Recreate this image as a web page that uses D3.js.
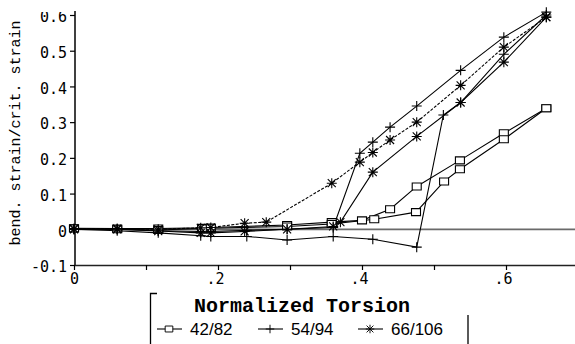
<!DOCTYPE html>
<html>
<head>
<meta charset="utf-8">
<script src="https://cdn.jsdelivr.net/npm/d3@7"></script>
<style>
  body { margin: 0; background: #fff; }
  svg { display: block; }
</style>
</head>
<body>
<svg id="chart" width="575" height="344"></svg>
<script>
"use strict";

// torsion levels / strain ratios
var sq1X = [0, 0.06, 0.117, 0.178, 0.19, 0.296, 0.358, 0.40, 0.439, 0.476, 0.536, 0.597, 0.656];
var sq1Y = [0.003, 0.002, 0.002, 0.004, 0.005, 0.012, 0.02, 0.025, 0.056, 0.12, 0.193, 0.269, 0.339];
var sq2X = [0, 0.06, 0.117, 0.178, 0.19, 0.296, 0.358, 0.417, 0.475, 0.514, 0.536, 0.597, 0.656];
var sq2Y = [0.002, 0.0, -0.002, 0.002, 0.003, 0.008, 0.015, 0.028, 0.048, 0.134, 0.168, 0.252, 0.339];

var pl1X = [0, 0.06, 0.117, 0.176, 0.19, 0.24, 0.296, 0.36, 0.397, 0.415, 0.439, 0.476, 0.537, 0.597, 0.656];
var pl1Y = [0, 0, -0.004, -0.006, -0.006, -0.003, 0.0, 0.005, 0.213, 0.244, 0.286, 0.345, 0.445, 0.538, 0.608];
var pl2X = [0, 0.06, 0.117, 0.176, 0.19, 0.24, 0.296, 0.36, 0.415, 0.476, 0.513, 0.537, 0.597, 0.656];
var pl2Y = [0, -0.004, -0.01, -0.018, -0.02, -0.02, -0.03, -0.02, -0.028, -0.05, 0.32, 0.355, 0.49, 0.60];

var as1X = [0, 0.06, 0.117, 0.176, 0.19, 0.237, 0.267, 0.358, 0.397, 0.415, 0.439, 0.476, 0.537, 0.597, 0.656];
var as1Y = [0.002, 0.002, 0.0, 0.004, 0.005, 0.017, 0.02, 0.129, 0.188, 0.215, 0.25, 0.30, 0.403, 0.51, 0.594];
var as2X = [0, 0.06, 0.117, 0.176, 0.19, 0.237, 0.296, 0.36, 0.37, 0.415, 0.476, 0.537, 0.597, 0.656];
var as2Y = [0, 0, -0.005, -0.01, -0.01, -0.006, 0.0, 0.008, 0.02, 0.16, 0.26, 0.355, 0.468, 0.594];

var legendNames = ["42/82", "54/94", "66/106"];
var xTicks = [0, 0.1, 0.2, 0.3, 0.4, 0.5, 0.6];
var xTickLabels = ["0", "", ".2", "", ".4", "", ".6"];
var yTicks = [-0.1, 0, 0.1, 0.2, 0.3, 0.4, 0.5, 0.6];
var yTickLabels = ["-0.1", "0", "0.1", "0.2", "0.3", "0.4", "0.5", "0.6"];

var svg = d3.select("#chart");

var x = d3.scaleLinear().domain([0, 0.7]).range([74, 578]);
var y = d3.scaleLinear().domain([-0.1, 0.6]).range([265, 15]);

var monoTick = "'DejaVu Sans Mono', monospace";

function zip(xs, ys) {
	return xs.map(function(v, i) { return [v, ys[i]]; });
}

var series = [
	{ pts: zip(sq1X, sq1Y), mark: "square", dash: null },
	{ pts: zip(sq2X, sq2Y), mark: "square", dash: null },
	{ pts: zip(pl1X, pl1Y), mark: "plus", dash: null },
	{ pts: zip(pl2X, pl2Y), mark: "plus", dash: null },
	{ pts: zip(as1X, as1Y), mark: "star", dash: "3,1.5" },
	{ pts: zip(as2X, as2Y), mark: "star", dash: null }
];

// marker shapes as path strings centred on 0,0
function markPath(kind) {
	if (kind == "square") return "M-4.5,-3.5H4.5V3.5H-4.5Z";
	if (kind == "plus") return "M-5,0H5M0,-5V5";
	return "M-5,0H5M0,-5V5M-4,-4L4,4M-4,4L4,-4";
}

// clip for the scanned-off top edge (local coords of the y axis group)
svg.append("defs").append("clipPath").attr("id", "pg")
	.append("rect").attr("x", -80).attr("y", 12).attr("width", 600).attr("height", 332);

// y axis
var yAxis = d3.axisLeft(y)
	.tickValues(yTicks)
	.tickSize(5)
	.tickSizeOuter(0)
	.tickFormat(function(d, i) { return yTickLabels[i]; });
var gy = svg.append("g")
	.attr("transform", "translate(75,0)")
	.attr("clip-path", "url(#pg)")
	.call(yAxis);
gy.select(".domain").remove();
gy.selectAll("line").attr("stroke", "#000").attr("stroke-width", 1.2);
gy.selectAll("text")
	.attr("x", -8)
	.attr("dy", "0.45em")
	.style("font-family", monoTick)
	.style("font-size", "15px")
	.attr("fill", "#000");
svg.append("line")
	.attr("x1", 75).attr("x2", 75)
	.attr("y1", 11).attr("y2", 265)
	.attr("stroke", "#000").attr("stroke-width", 1.5);

// x axis
var xAxis = d3.axisBottom(x)
	.tickValues(xTicks)
	.tickSize(5)
	.tickSizeOuter(0)
	.tickFormat(function(d, i) { return xTickLabels[i]; });
var gx = svg.append("g")
	.attr("transform", "translate(0,265)")
	.call(xAxis);
gx.select(".domain").attr("stroke", "#222").attr("stroke-width", 1.3);
gx.selectAll("line").attr("stroke", "#000").attr("stroke-width", 1.2);
gx.selectAll("text")
	.attr("y", 8)
	.attr("dx", function(d) { return d == 0 ? 0 : -3; })
	.style("font-family", monoTick)
	.style("font-size", "15px")
	.attr("fill", "#000");

// zero reference line
svg.append("line")
	.attr("x1", x(0)).attr("x2", 575)
	.attr("y1", y(0)).attr("y2", y(0))
	.attr("stroke", "#6a6a6a").attr("stroke-width", 1.8);

// curves
var line = d3.line()
	.x(function(d) { return x(d[0]); })
	.y(function(d) { return y(d[1]); });

var gs = svg.append("g");
series.forEach(function(s) {
	gs.append("path")
		.attr("d", line(s.pts))
		.attr("fill", "none")
		.attr("stroke", "#000")
		.attr("stroke-width", 1.1)
		.attr("stroke-dasharray", s.dash);
});
series.forEach(function(s) {
	gs.selectAll(null)
		.data(s.pts)
		.enter().append("path")
		.attr("transform", function(d) { return "translate(" + x(d[0]) + "," + y(d[1]) + ")"; })
		.attr("d", markPath(s.mark))
		.attr("fill", s.mark == "square" ? "#fff" : "none")
		.attr("stroke", "#000")
		.attr("stroke-width", 1.1);
});

// axis titles
svg.append("text")
	.attr("transform", "translate(20,133) rotate(-90)")
	.attr("text-anchor", "middle")
	.style("font-family", "'Liberation Mono', monospace")
	.style("font-size", "15px")
	.text("bend. strain/crit. strain");

svg.append("text")
	.attr("x", 302).attr("y", 312)
	.attr("text-anchor", "middle")
	.style("font-family", "'Liberation Mono', monospace")
	.style("font-size", "20px")
	.style("font-weight", "bold")
	.text("Normalized Torsion");

// legend
var lg = svg.append("g");
lg.append("path")
	.attr("d", "M157,293.5H150.5V344")
	.attr("fill", "none").attr("stroke", "#000").attr("stroke-width", 1.3);
lg.append("line")
	.attr("x1", 468).attr("x2", 468).attr("y1", 315).attr("y2", 344)
	.attr("stroke", "#000").attr("stroke-width", 1.3);

var legendX = [157, 258, 358];
var legendMarks = ["square", "plus", "star"];
legendNames.forEach(function(name, i) {
	var lx = legendX[i];
	lg.append("line")
		.attr("x1", lx).attr("x2", lx + 25)
		.attr("y1", 329).attr("y2", 329)
		.attr("stroke", "#000").attr("stroke-width", 1.1);
	lg.append("path")
		.attr("transform", "translate(" + (lx + 12) + ",329) scale(0.85)")
		.attr("d", markPath(legendMarks[i]))
		.attr("fill", legendMarks[i] == "square" ? "#fff" : "none")
		.attr("stroke", "#000").attr("stroke-width", 1.1);
	lg.append("text")
		.attr("x", lx + 33).attr("y", 335)
		.style("font-family", "'Liberation Sans', Arial, sans-serif")
		.style("font-size", "17px")
		.text(name);
});
</script>
</body>
</html>
